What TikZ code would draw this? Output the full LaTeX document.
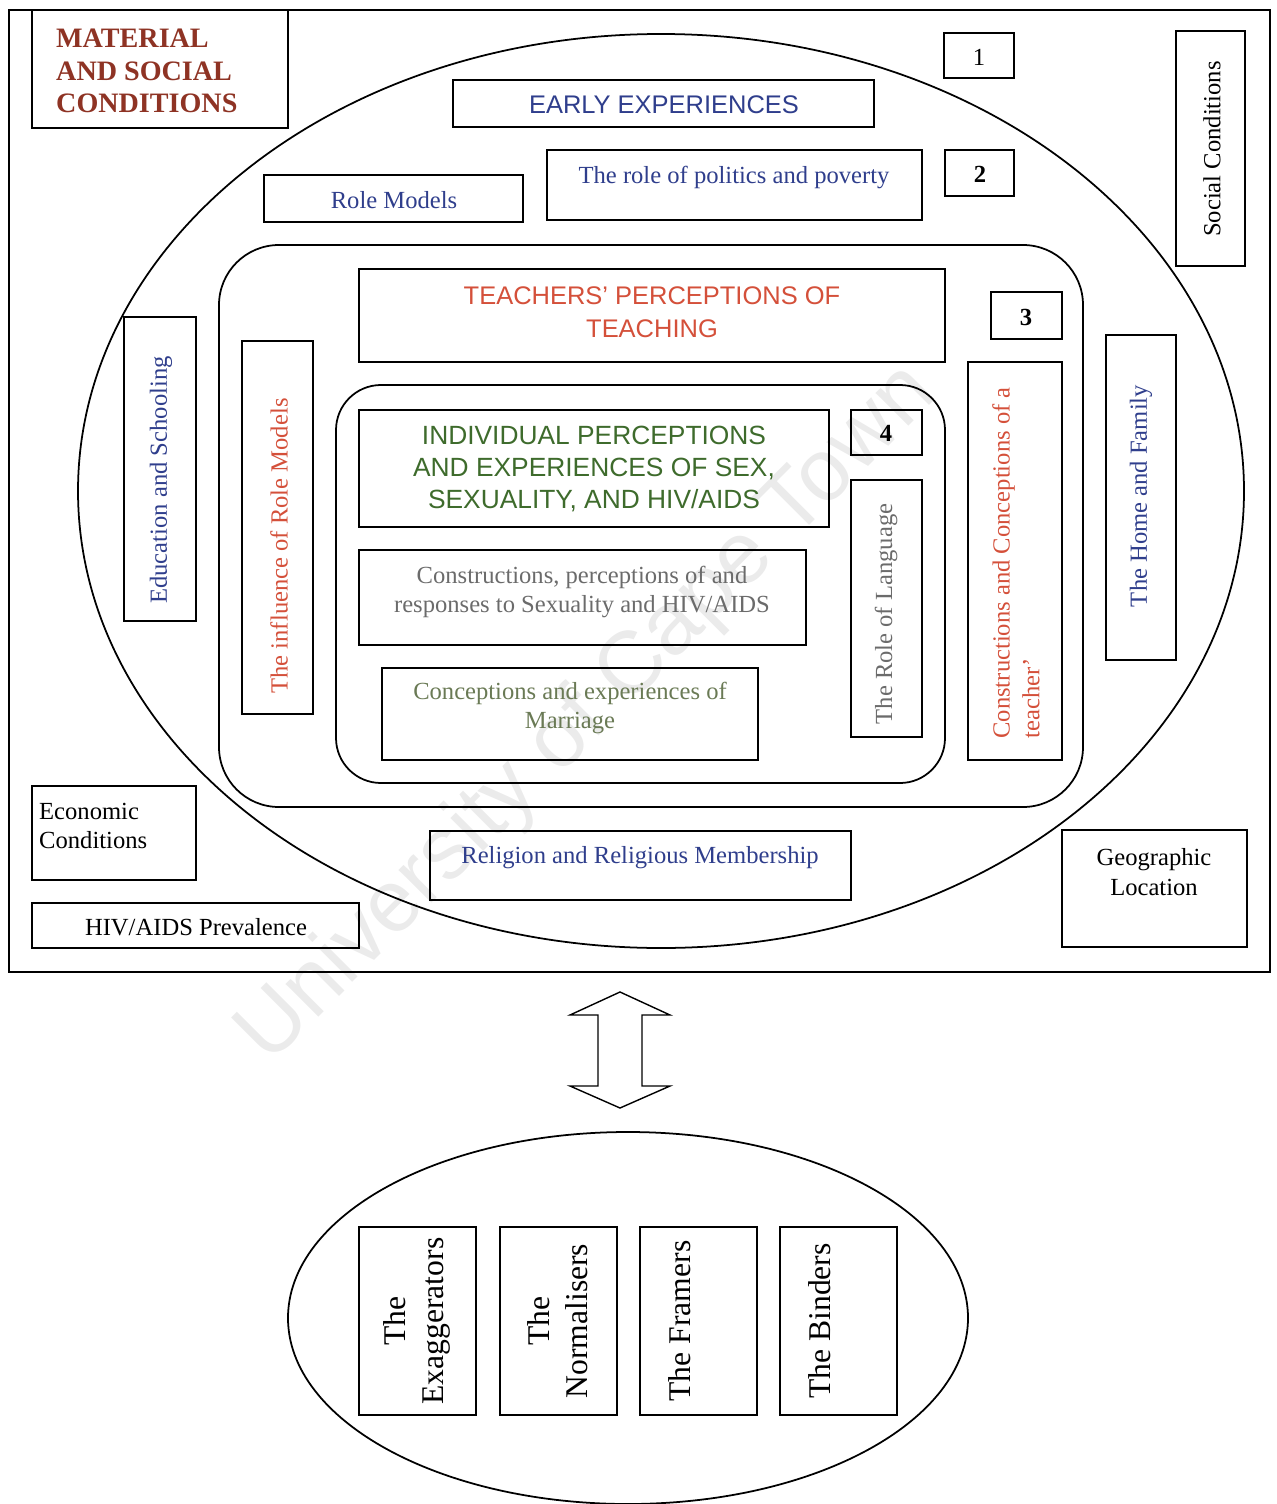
\documentclass[tikz,border=0pt]{standalone}
\usepackage{fontspec}
\setmainfont{Liberation Serif}
\setsansfont{Liberation Sans}
\usepackage{xcolor}
\def\outerellipse{(661,491) ellipse [x radius=583, y radius=457]}
\def\lowerellipse{(628,1318) ellipse [x radius=340, y radius=186]}
\definecolor{material red}{HTML}{8E3324}
\definecolor{early blue}{HTML}{2F3E8C}
\definecolor{teaching red}{HTML}{D4503A}
\definecolor{individual green}{HTML}{3E6B2C}
\definecolor{soft grey}{HTML}{6B6B6B}
\definecolor{soft green}{HTML}{6A7A55}
\tikzset{frame/.style={draw=black, line width=0.8pt},
    box/.style={draw=black, line width=0.8pt},
    ring/.style={draw=black, line width=1pt},
    serif/.style={font=\fontsize{14}{17}\selectfont, align=center},
    caps/.style={font=\sffamily\fontsize{14.5}{18.6}\selectfont, align=center},
    number/.style={font=\bfseries\fontsize{14}{17}\selectfont},
    group/.style={font=\fontsize{18}{21.5}\selectfont, align=center, rotate=90},
    watermark/.style={font=\sffamily\fontsize{50}{60}\selectfont, text=black!8, rotate=45}}

\begin{document}
\begin{tikzpicture}[x=0.02cm, y=-0.02cm]
    \useasboundingbox (0,0) rectangle (1276,1504);
    \node[watermark] (mark) at (588,715) {University of Cape Town};
    % frame and the three rings
    \draw[frame] (9,10) rectangle (1270,972);
    \draw[ring] \outerellipse;
    \draw[ring, rounded corners=1.2cm] (219,245) rectangle (1083,807);
    \draw[ring, rounded corners=0.9cm] (336,385) rectangle (945,783);

    % material and social conditions
    \draw[box] (32,10) rectangle (288,128);
    \node[font=\bfseries\fontsize{16}{18.5}\selectfont, text=material red,
      align=left, anchor=west] (material) at (50,71)
      {MATERIAL\\AND SOCIAL\\CONDITIONS};
    \draw[box] (1176,31) rectangle (1245,266);
    \node[serif, rotate=90] (social) at (1212,149) {Social Conditions};
    \draw[box] (124,317) rectangle (196,621);
    \node[serif, rotate=90, text=early blue] (school) at (161,480) {Education and Schooling};
    \draw[box] (1106,335) rectangle (1176,660);
    \node[serif, rotate=90, text=early blue] (home) at (1141,496) {The Home and Family};
    \draw[box] (32,786) rectangle (196,880);
    \node[serif, align=left, anchor=west] (economic) at (33,826) {Economic\\Conditions};
    \draw[box] (32,903) rectangle (359,948);
    \node[serif] (prevalence) at (196,927) {HIV/AIDS Prevalence};
    \draw[box] (1062,830) rectangle (1247,947);
    \node[serif] (geography) at (1154,872) {Geographic\\Location};
    \draw[box] (430,831) rectangle (851,900);
    \node[serif, text=early blue] (religion) at (640,858) {Religion and Religious Membership};

    % early experiences
    \draw[box] (944,33) rectangle (1014,78);
    \node[font=\fontsize{14}{17}\selectfont] (one) at (979,57) {1};
    \draw[box] (453,80) rectangle (874,127);
    \node[caps, text=early blue] (early) at (664,105) {EARLY EXPERIENCES};
    \draw[box] (264,175) rectangle (523,222);
    \node[serif, text=early blue] (models) at (394,200) {Role Models};
    \draw[box] (547,150) rectangle (922,220);
    \node[serif, text=early blue] (politics) at (734,177) {The role of politics and poverty};
    \draw[box] (945,150) rectangle (1014,196);
    \node[number] (two) at (980,174) {2};

    % teachers' perceptions
    \draw[box] (359,269) rectangle (945,362);
    \node[caps, text=teaching red] (teaching) at (652,312) {TEACHERS' PERCEPTIONS OF\\TEACHING};
    \draw[box] (991,292) rectangle (1062,339);
    \node[number] (three) at (1026,317) {3};
    \draw[box] (242,341) rectangle (313,714);
    \node[serif, rotate=90, text=teaching red] (influence) at (279,546) {The influence of Role Models};
    \draw[box] (968,362) rectangle (1062,760);
    \node[serif, rotate=90, align=left, text=teaching red] (teacher) at (1016,563)
      {Constructions and Conceptions of a\\teacher'};

    % individual perceptions
    \draw[box] (359,410) rectangle (829,527);
    \node[caps, font=\sffamily\fontsize{15}{18.4}\selectfont, text=individual green]
      (individual) at (594,469) {INDIVIDUAL PERCEPTIONS\\AND EXPERIENCES OF SEX,\\SEXUALITY, AND HIV/AIDS};
    \draw[box] (851,410) rectangle (922,455);
    \node[number] (four) at (886,433) {4};
    \draw[box] (851,480) rectangle (922,737);
    \node[serif, rotate=90, text=soft grey] (language) at (886,614) {The Role of Language};
    \draw[box] (359,550) rectangle (806,645);
    \node[serif, text=soft grey] (responses) at (582,592)
      {Constructions, perceptions of and\\responses to Sexuality and HIV/AIDS};
    \draw[box] (382,668) rectangle (758,760);
    \node[serif, text=soft green] (marriage) at (570,708) {Conceptions and experiences of\\Marriage};

    % double arrow
    \draw[box, fill=white] (620,992) -- (670,1015) -- (642,1015) -- (642,1086) -- (670,1086)
      -- (620,1108) -- (570,1086) -- (598,1086) -- (598,1015) -- (570,1015) -- cycle;

    % the four groups
    \draw[ring] \lowerellipse;
    \draw[box] (359,1227) rectangle (476,1415);
    \node[group] (exaggerators) at (417,1321) {The\\Exaggerators};
    \draw[box] (500,1227) rectangle (617,1415);
    \node[group] (normalisers) at (558,1321) {The\\Normalisers};
    \draw[box] (640,1227) rectangle (757,1415);
    \node[group] (framers) at (680,1321) {The Framers};
    \draw[box] (780,1227) rectangle (897,1415);
    \node[group] (binders) at (820,1321) {The Binders};
\end{tikzpicture}
\end{document}
